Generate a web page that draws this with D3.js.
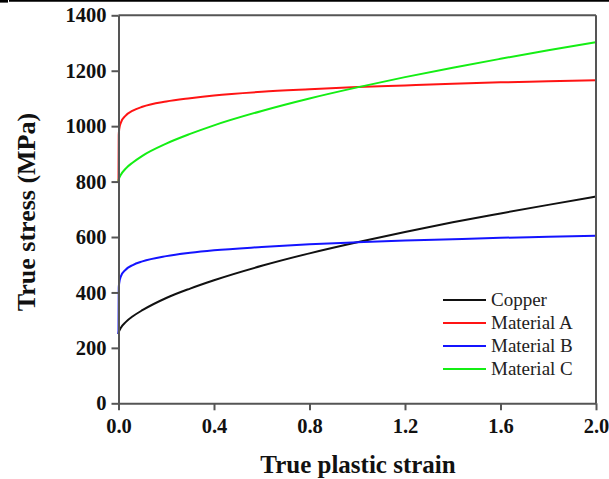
<!DOCTYPE html>
<html>
<head>
<meta charset="utf-8">
<script src="https://cdn.jsdelivr.net/npm/d3@7"></script>
<style>
  html, body { margin: 0; padding: 0; background: #fff; }
  svg { display: block; }
</style>
</head>
<body>
<script>
// Flow curves: true stress (MPa) against true plastic strain
const strain = [0, 0.001, 0.003, 0.01, 0.03, 0.06, 0.1, 0.2, 0.3, 0.4, 0.6, 0.8, 1.0, 1.2, 1.4, 1.6, 1.8, 2.0];
const copper    = [250, 256, 261, 273, 293, 314, 336, 380, 414, 444, 496, 541, 581, 618, 653, 685, 716, 746];
const materialA = [800, 968, 989, 1013, 1038, 1056, 1070, 1089, 1101, 1111, 1124, 1133, 1141, 1147, 1153, 1158, 1162, 1166];
const materialB = [250, 415, 434, 458, 482, 499, 512, 531, 543, 552, 564, 574, 581, 587, 592, 597, 601, 605];
const materialC = [800, 807, 813, 825, 847, 869, 893, 937, 972, 1003, 1055, 1100, 1140, 1177, 1211, 1243, 1274, 1303];

const seriesNames  = ["Copper", "Material A", "Material B", "Material C"];
const seriesColors = ["#111111", "#ff1414", "#1414ff", "#14ee14"];
const seriesValues = [copper, materialA, materialB, materialC];

const xTicks = [0, 0.4, 0.8, 1.2, 1.6, 2.0];
const yTicks = [0, 200, 400, 600, 800, 1000, 1200, 1400];

const W = 609, H = 479;
const plot = { left: 118.5, right: 596, top: 15.3, bottom: 403.3 };
const serif = "'Liberation Serif', 'Times New Roman', serif";

const svg = d3.select("body").append("svg")
  .attr("width", W).attr("height", H);

// thin rule across the very top of the figure
svg.append("rect").attr("x", 0).attr("y", 0).attr("width", 8).attr("height", 2.6).attr("fill", "#000");
svg.append("line").attr("x1", 9).attr("x2", W).attr("y1", 0.8).attr("y2", 0.8)
  .attr("stroke", "#000").attr("stroke-width", 1.7);

const x = d3.scaleLinear().domain([0, 2.0]).range([plot.left, plot.right]);
const y = d3.scaleLinear().domain([0, 1400]).range([plot.bottom, plot.top]);

// curves
const line = d3.line()
  .x(d => x(d[0]))
  .y(d => y(d[1]))
  .curve(d3.curveMonotoneX);

const curves = svg.append("g");
seriesValues.forEach((vals, i) => {
  curves.append("path")
    .datum(strain.map((s, j) => [s, vals[j]]))
    .attr("fill", "none")
    .attr("stroke", seriesColors[i])
    .attr("stroke-width", 2)
    .attr("d", line);
});

// frame (top and right edges)
const axisColor = "#555";
svg.append("line").attr("x1", plot.left).attr("x2", plot.right).attr("y1", plot.top).attr("y2", plot.top)
  .attr("stroke", axisColor).attr("stroke-width", 2);
svg.append("line").attr("x1", plot.right).attr("x2", plot.right).attr("y1", plot.top).attr("y2", plot.bottom)
  .attr("stroke", axisColor).attr("stroke-width", 2);

// axes
const xAxis = svg.append("g")
  .attr("transform", `translate(0,${plot.bottom})`)
  .call(d3.axisBottom(x).tickValues(xTicks).tickFormat(d3.format(".1f")).tickSizeInner(7).tickSizeOuter(0).tickPadding(8));
const yAxis = svg.append("g")
  .attr("transform", `translate(${plot.left},0)`)
  .call(d3.axisLeft(y).tickValues(yTicks).tickFormat(d3.format("d")).tickSizeInner(7).tickSizeOuter(0).tickPadding(5));

[xAxis, yAxis].forEach(g => {
  g.select(".domain").attr("stroke", axisColor).attr("stroke-width", 2);
  g.selectAll(".tick line").attr("stroke", axisColor).attr("stroke-width", 2);
  g.selectAll(".tick text")
    .attr("fill", "#111")
    .style("font-family", serif)
    .style("font-weight", "bold")
    .style("font-size", "20.5px");
});

// axis titles
svg.append("text")
  .attr("x", 358)
  .attr("y", 473)
  .attr("text-anchor", "middle")
  .style("font-family", serif).style("font-weight", "bold").style("font-size", "25px")
  .attr("fill", "#111")
  .text("True plastic strain");

svg.append("text")
  .attr("transform", `translate(35,212) rotate(-90)`)
  .attr("text-anchor", "middle")
  .style("font-family", serif).style("font-weight", "bold").style("font-size", "26px")
  .attr("fill", "#111")
  .text("True stress (MPa)");

// legend
const legend = svg.append("g").attr("transform", "translate(443,300)");
seriesNames.forEach((name, i) => {
  const row = legend.append("g").attr("transform", `translate(0,${i * 23})`);
  row.append("line").attr("x1", 0).attr("x2", 43).attr("y1", 0).attr("y2", 0)
    .attr("stroke", seriesColors[i]).attr("stroke-width", 2);
  row.append("text").attr("x", 48).attr("y", 0).attr("dy", "0.34em")
    .style("font-family", serif).style("font-size", "19px")
    .attr("fill", "#222")
    .text(name);
});
</script>
</body>
</html>
